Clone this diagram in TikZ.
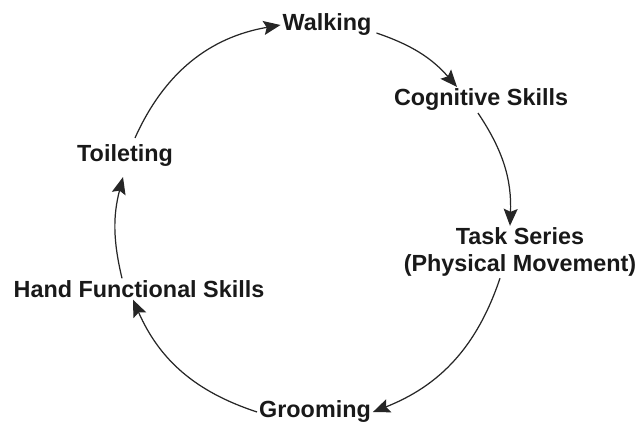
\documentclass[tikz,border=0pt]{standalone}
\usepackage{fontspec}
\setmainfont{Liberation Sans}
\usetikzlibrary{arrows.meta}
\tikzset{
  stage/.style={font=\bfseries\fontsize{13.3}{15}\selectfont, inner sep=1pt, align=center, text=black!90},
  cycle arrow/.style={-{Stealth[length=3.4mm,width=2.8mm,inset=0.6mm]}, line width=0.7pt, black!85}
}
\begin{document}
\begin{tikzpicture}[x=0.02cm,y=-0.02cm]
\useasboundingbox (0,0) rectangle (639,423);
% stages round the cycle
\node[stage] (walk) at (327,25) {Walking};
\node[stage] (cog) at (481,100) {Cognitive Skills};
\node[stage] (task) at (520,252) {Task Series\\(Physical Movement)};
\node[stage] (groom) at (315,412) {Grooming};
\node[stage] (hand) at (139,289) {Hand Functional Skills};
\node[stage] (toil) at (125,156) {Toileting};
% arrows, clockwise
\draw[cycle arrow] ([xshift=0.2cm,yshift=0.1cm]toil.north) to[bend left=28] (walk.west);
\draw[cycle arrow] ([xshift=0.06cm,yshift=-0.16cm]walk.east) to[bend left=15] ([xshift=-0.48cm]cog.north);
\draw[cycle arrow] ([xshift=-0.06cm]cog.south) to[bend left=18] ([xshift=-0.2cm]task.north);
\draw[cycle arrow] ([xshift=-0.4cm]task.south) to[bend left=25] (groom.east);
\draw[cycle arrow] (groom.west) to[bend left=24] ([xshift=-0.12cm]hand.south);
\draw[cycle arrow] ([xshift=-0.34cm]hand.north) to[bend left=14] ([xshift=-0.04cm,yshift=-0.16cm]toil.south);
\end{tikzpicture}
\end{document}
